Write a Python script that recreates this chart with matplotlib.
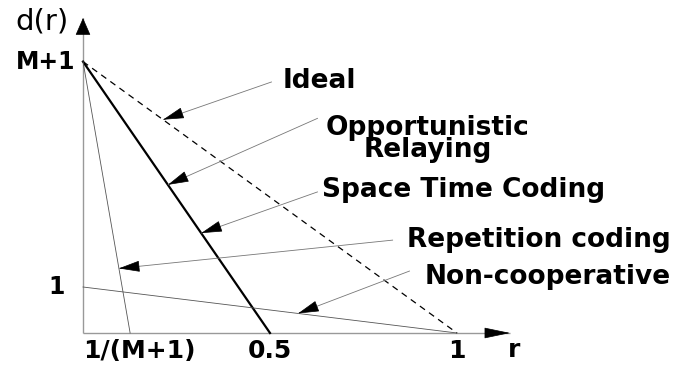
import matplotlib
matplotlib.use("Agg")
import matplotlib.pyplot as plt

# Schematic values
d_max = 5.9          # position of "M+1" on the d axis
d_one = 1.0          # position of "1" on the d axis
r_rep = 0.126        # position of "1/(M+1)" on the r axis
r_stc = 0.5
r_one = 1.0

curve_names = ["Ideal", "Opportunistic\nRelaying", "Space Time Coding",
               "Repetition coding", "Non-cooperative"]
xtick_vals = [r_rep, r_stc, r_one]
xtick_labels = ["1/(M+1)", "0.5", "1"]
ytick_vals = [d_max, d_one]
ytick_labels = ["M+1", "1"]

# pointer tips (r positions along target curves)
tip_r = [0.214, 0.227, 0.316, 0.096, 0.575]
tail_xy = [(0.505, 5.46), (0.628, 4.67), (0.628, 3.07), (0.829, 2.02), (0.874, 1.35)]
text_xy = [(0.535, 5.48), (0.922, 4.21), (0.639, 3.11), (0.866, 2.02), (0.914, 1.22)]
text_ha = ["left", "center", "left", "left", "left"]

fig = plt.figure(figsize=(6.83, 3.67), dpi=100)
ax = fig.add_axes([0, 0, 1, 1])
ax.set_xlim(-83 / 374, 600 / 374)
ax.set_ylim(-34 / 46, 333 / 46)
ax.axis("off")

def arrow(tail, tip, line_color, lw, head_style, scale):
    ax.plot([tail[0], tip[0]], [tail[1], tip[1]], color=line_color, lw=lw,
            solid_capstyle="butt")
    # black head: short segment ending at the tip
    f = 0.02
    start = (tip[0] - (tip[0] - tail[0]) * f, tip[1] - (tip[1] - tail[1]) * f)
    ax.annotate("", xy=tip, xytext=start,
                arrowprops=dict(arrowstyle=head_style, mutation_scale=scale,
                                lw=0.5, color="black", shrinkA=0, shrinkB=0))

# axes with arrows
arrow((0, 0), (0, 315 / 46), "#999999", 1.0, "-|>,head_length=0.8,head_width=0.35", 14)
arrow((0, 0), (427 / 374, 0), "#999999", 1.0, "-|>,head_length=1.2,head_width=0.25", 14)

# curves
ax.plot([0, r_one], [d_max, 0], color="black", lw=0.9, ls=(0, (5, 4)))
ax.plot([0, r_stc], [d_max, 0], color="black", lw=1.6)
ax.plot([0, r_rep], [d_max, 0], color="#555555", lw=0.6)
ax.plot([0, r_one], [d_one, 0], color="#555555", lw=0.6)

def on_curve(i, r):
    if i == 0:
        return d_max * (1 - r / r_one)
    if i in (1, 2):
        return d_max * (1 - r / r_stc)
    if i == 3:
        return d_max * (1 - r / r_rep)
    return d_one * (1 - r / r_one)

for i, name in enumerate(curve_names):
    tip = (tip_r[i], on_curve(i, tip_r[i]))
    arrow(tail_xy[i], tip, "#777777", 0.6, "-|>,head_length=0.75,head_width=0.2", 18)
    ax.text(text_xy[i][0], text_xy[i][1], name, ha=text_ha[i], va="center",
            fontsize=19, fontweight="bold", family="DejaVu Sans",
            linespacing=0.8, multialignment="center")

# tick labels
for v, lab in zip(xtick_vals, xtick_labels):
    xc = v + (9 / 374 if lab.startswith("1/") else 0)
    ax.text(xc, -18 / 46, lab, ha="center", va="center",
            fontsize=18, fontweight="bold", family="DejaVu Sans")
ax.text(-8 / 374, d_max, ytick_labels[0], ha="right", va="center",
        fontsize=17, fontweight="bold", family="DejaVu Sans")
ax.text(-26 / 374, d_one, ytick_labels[1], ha="center", va="center",
        fontsize=17, fontweight="bold", family="DejaVu Sans")

# axis labels
ax.text(-68 / 374, 311 / 46, "d(r)", ha="left", va="center",
        fontsize=21, family="DejaVu Sans")
ax.text(431 / 374, -17 / 46, "r", ha="center", va="center",
        fontsize=18, fontweight="bold", family="DejaVu Sans")

fig.savefig("out.png", dpi=100)
